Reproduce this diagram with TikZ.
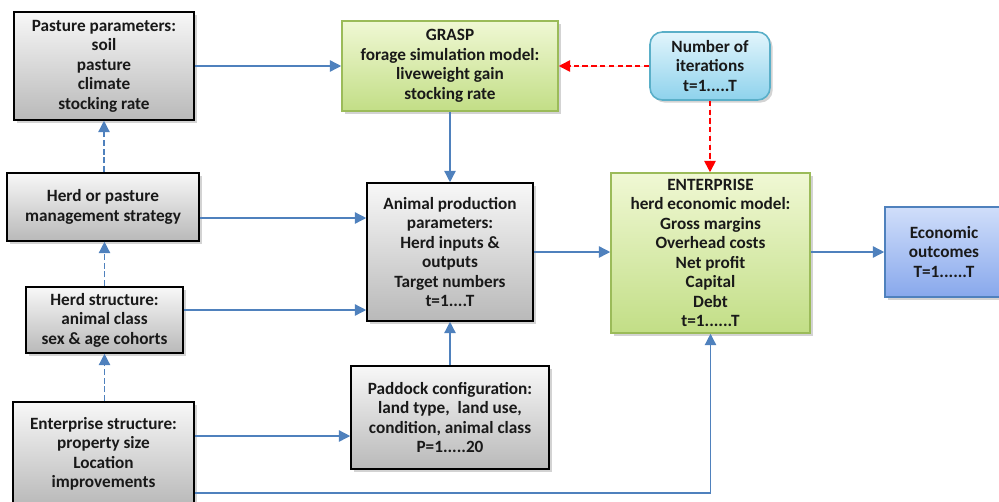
\documentclass[tikz,border=0pt]{standalone}
\usepackage{fontspec}
\setmainfont{Carlito}
\usetikzlibrary{arrows.meta,shadows,calc}
\definecolor{arrblue}{HTML}{4F81BD}
\definecolor{grnborder}{HTML}{9BBB59}
\definecolor{grntop}{HTML}{F0F8D4}
\definecolor{grnbot}{HTML}{C2DE86}
\definecolor{cyantop}{HTML}{E2F5FC}
\definecolor{cyanbot}{HTML}{8ED2EC}
\definecolor{cyanborder}{HTML}{5AAFC8}
\definecolor{bluetop}{HTML}{D0DEFA}
\definecolor{bluebot}{HTML}{88A8EC}
\definecolor{blueborder}{HTML}{4F81BD}
\tikzset{
  x=0.02cm, y=-0.02cm,
  boxbase/.style={align=center, inner sep=1pt, font=\fontsize{9.8}{11.1}\selectfont\bfseries, text=black!90,
     drop shadow={shadow xshift=1.5pt, shadow yshift=-1.5pt, opacity=0.35}},
  graybox/.style={boxbase, draw=black, line width=0.9pt, top color=gray!6, bottom color=gray!55},
  greenbox/.style={boxbase, draw=grnborder, line width=0.9pt, top color=grntop, bottom color=grnbot},
  cyanbox/.style={boxbase, draw=cyanborder, line width=0.9pt, rounded corners=7pt, top color=cyantop, bottom color=cyanbot},
  bluebox/.style={boxbase, draw=blueborder, line width=0.9pt, top color=bluetop, bottom color=bluebot},
  arr/.style={draw=arrblue, line width=0.8pt, -{Triangle[width=6.5pt,length=6.5pt]}},
  dasharr/.style={arr, dash pattern=on 3.5pt off 1.5pt},
  redarr/.style={draw=red, line width=1pt, dash pattern=on 3pt off 2pt, -{Triangle[width=6.5pt,length=6.5pt]}, fill=red}
}
\begin{document}
\begin{tikzpicture}
\useasboundingbox (0,0) rectangle (999,501);
\node[graybox, minimum width=3.6cm, minimum height=2.16cm] (ps) at (104,66)
  {Pasture parameters:\\soil\\pasture\\climate\\stocking rate};
\node[greenbox, minimum width=4.32cm, minimum height=1.8cm] (gr) at (450,66)
  {GRASP\\forage simulation model:\\liveweight gain\\stocking rate};
\node[cyanbox, minimum width=2.4cm, minimum height=1.36cm] (ni) at (710,66)
  {Number of\\iterations\\t=1.....T};
\node[graybox, minimum width=3.84cm, minimum height=1.36cm] (hm) at (103,207)
  {Herd or pasture\\management strategy};
\node[graybox, minimum width=3.14cm, minimum height=1.32cm] (hs) at (104.5,320)
  {Herd structure:\\animal class\\sex \& age cohorts};
\node[graybox, minimum width=3.32cm, minimum height=2.76cm] (ap) at (450,252)
  {Animal production\\parameters:\\Herd inputs \&\\outputs\\Target numbers\\t=1....T};
\node[greenbox, minimum width=3.98cm, minimum height=3.2cm] (en) at (710.5,253)
  {ENTERPRISE\\herd economic model:\\Gross margins\\Overhead costs\\Net profit\\Capital\\Debt\\t=1......T};
\node[bluebox, minimum width=2.36cm, minimum height=1.8cm] (eo) at (944,252)
  {Economic\\outcomes\\T=1......T};
\node[graybox, minimum width=3.62cm, minimum height=2.08cm] (es) at (103.5,454)
  {Enterprise structure:\\property size\\Location\\improvements};
\node[graybox, minimum width=3.96cm, minimum height=2.06cm] (pc) at (450,417.5)
  {Paddock configuration:\\land type,\ \ land use,\\condition, animal class\\P=1.....20};

\draw[arr] (ps.east) -- (gr.west);
\draw[redarr] (ni.west) -- (gr.east);
\draw[redarr] (ni.south) -- (ni.south |- en.north);
\draw[arr] (gr.south) -- (ap.north);
\draw[arr] (pc.north) -- (ap.south);
\coordinate (p1) at ([yshift=-0.22cm]hm.east);
\draw[arr] (p1) -- (p1 -| ap.west);
\coordinate (p2) at ([yshift=0.2cm]hs.east);
\draw[arr] (p2) -- (p2 -| ap.west);
\draw[arr] (ap.east) -- (ap.east -| en.west);
\draw[arr] (en.east |- eo.west) -- (eo.west);
\coordinate (p3) at ([yshift=0.36cm]es.east);
\draw[arr] (p3) -- (p3 -| pc.west);
\coordinate (p4) at ([yshift=-0.78cm]es.east);
\draw[arr] (p4) -| (en.south);
\draw[dasharr] (hs.south |- es.north) -- (hs.south);
\draw[dasharr] (hs.north) -- (hs.north |- hm.south);
\draw[dasharr] (ps.south |- hm.north) -- (ps.south);
\end{tikzpicture}
\end{document}
